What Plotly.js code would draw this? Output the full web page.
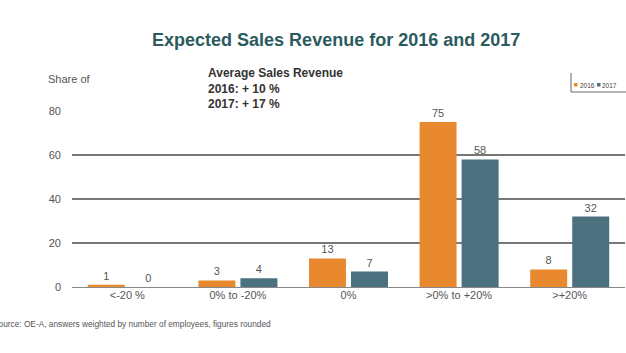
<!DOCTYPE html>
<html>
<head>
<meta charset="utf-8">
<script src="https://cdn.plot.ly/plotly-3.0.1.min.js"></script>
<style>html,body{margin:0;padding:0;background:#fff;}#chart{width:626px;height:353px;}</style>
</head>
<body>
<div id="chart"></div>
<script>
const categories = ['<-20 %', '0% to -20%', '0%', '>0% to +20%', '>+20%'];
const values2016 = [1, 3, 13, 75, 8];
const values2017 = [0, 4, 7, 58, 32];
const seriesNames = ['2016', '2017'];
const seriesColors = ['#E8892F', '#4C717E'];
const yTicks = [0, 20, 40, 60, 80];

const font = 'Arial, Liberation Sans, sans-serif';
const M = {l: 72, r: 1, t: 111, b: 66};
const W = 626, H = 353;
const pw = W - M.l - M.r, ph = H - M.t - M.b;
const px = x => (x - M.l) / pw;
const py = y => (H - M.b - y) / ph;

const traces = [
  {type: 'bar', name: seriesNames[0], x: categories, y: values2016, text: values2016.map(String),
   textposition: 'outside', cliponaxis: false, marker: {color: seriesColors[0]},
   textfont: {size: 11, color: '#555', family: font}, hoverinfo: 'none'},
  {type: 'bar', name: seriesNames[1], x: categories, y: values2017, text: values2017.map(String),
   textposition: 'outside', cliponaxis: false, marker: {color: seriesColors[1]},
   textfont: {size: 11, color: '#555', family: font}, hoverinfo: 'none'}
];

const legendShapes = [
  {type: 'line', xref: 'paper', yref: 'paper', x0: px(571), x1: px(571), y0: py(92), y1: py(73), line: {color: '#666', width: 1}},
  {type: 'line', xref: 'paper', yref: 'paper', x0: px(571), x1: px(626), y0: py(92), y1: py(92), line: {color: '#666', width: 1}},
  {type: 'rect', xref: 'paper', yref: 'paper', x0: px(574), x1: px(577.5), y0: py(86.5), y1: py(83), line: {width: 0}, fillcolor: seriesColors[0]},
  {type: 'rect', xref: 'paper', yref: 'paper', x0: px(597), x1: px(600.5), y0: py(86.5), y1: py(83), line: {width: 0}, fillcolor: seriesColors[1]}
];

const layout = {
  width: W, height: H,
  margin: M,
  showlegend: false,
  paper_bgcolor: '#fff', plot_bgcolor: '#fff',
  font: {family: font, color: '#555', size: 11},
  title: {text: '<b>Expected Sales Revenue for 2016 and 2017</b>', x: 0.537, xanchor: 'center', y: 0.887, yanchor: 'middle',
          font: {size: 18, color: '#2B5B5E', family: font}},
  barmode: 'group', bargap: 0.24, bargroupgap: 0.12,
  xaxis: {type: 'category', showgrid: false, showline: false, ticks: '', tickfont: {size: 11, color: '#555'}},
  yaxis: {range: [0, 80], tickvals: yTicks, ticktext: yTicks.map(String), showgrid: true, gridcolor: '#777', gridwidth: 1.5,
          zeroline: true, zerolinecolor: '#888', zerolinewidth: 1, showline: false, ticks: '', ticklabelstandoff: 10,
          tickfont: {size: 11, color: '#555'}},
  shapes: legendShapes,
  annotations: [
    {text: seriesNames[0], xref: 'paper', yref: 'paper', x: px(578.5), y: py(85), xanchor: 'left', yanchor: 'middle', showarrow: false,
     borderpad: 0, font: {size: 6.5, color: '#444'}},
    {text: seriesNames[1], xref: 'paper', yref: 'paper', x: px(601), y: py(85), xanchor: 'left', yanchor: 'middle', showarrow: false,
     borderpad: 0, font: {size: 6.5, color: '#444'}},
    {text: 'Share of', xref: 'paper', yref: 'paper', x: px(46), y: py(79), xanchor: 'left', yanchor: 'middle', showarrow: false,
     font: {size: 11, color: '#555'}},
    {text: '<b>Average Sales Revenue<br>2016: + 10 %<br>2017: + 17 %</b>', xref: 'paper', yref: 'paper', x: px(206), y: py(64),
     xanchor: 'left', yanchor: 'top', align: 'left', showarrow: false, font: {size: 12, color: '#333'}},
    {text: 'Source: OE-A, answers weighted by number of employees, figures rounded', xref: 'paper', yref: 'paper',
     x: px(-9), y: py(324), xanchor: 'left', yanchor: 'middle', showarrow: false, font: {size: 8.3, color: '#555'}}
  ]
};

Plotly.newPlot('chart', traces, layout, {displayModeBar: false, staticPlot: true});
</script>
</body>
</html>
